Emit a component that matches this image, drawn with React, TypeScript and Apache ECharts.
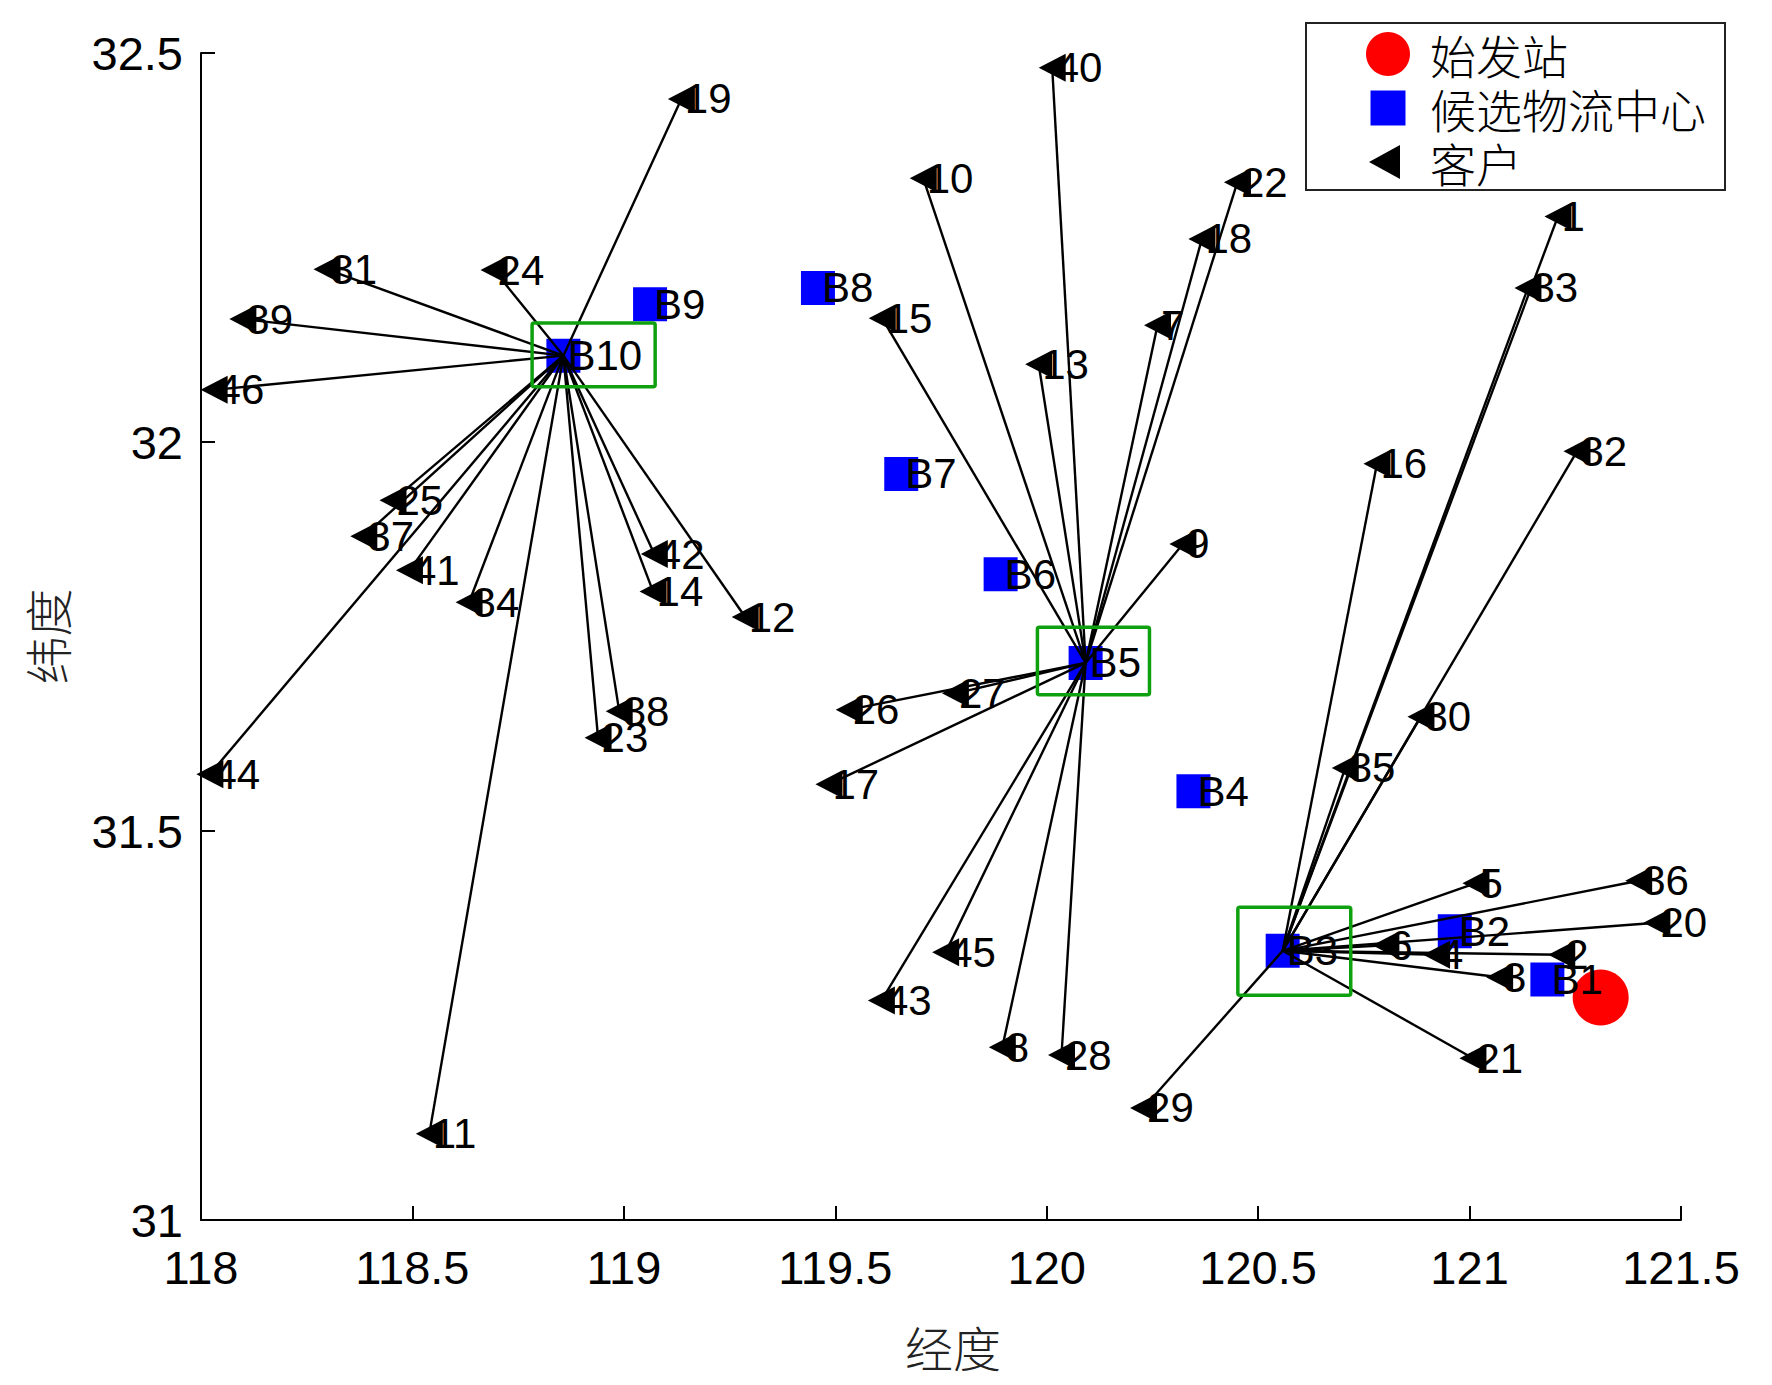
import React, { useEffect, useRef } from 'react';
import * as echarts from 'echarts';

// ---------- data ----------
const legendNames = ['始发站', '候选物流中心', '客户'];

const startLon = [121.31];
const startLat = [31.286];

const centerNames = ['B1', 'B2', 'B3', 'B4', 'B5', 'B6', 'B7', 'B8', 'B9', 'B10'];
const centerLon = [121.184, 120.965, 120.558, 120.347, 120.092, 119.891, 119.656, 119.459, 119.062, 118.857];
const centerLat = [31.309, 31.371, 31.346, 31.551, 31.716, 31.83, 31.959, 32.198, 32.177, 32.111];

const customerIds = [
  '1', '2', '3', '4', '5', '6', '7', '8', '9', '10',
  '11', '12', '13', '14', '15', '16', '17', '18', '19', '20',
  '21', '22', '23', '24', '25', '26', '27', '28', '29', '30',
  '31', '32', '33', '34', '35', '36', '37', '38', '39', '40',
  '41', '42', '43', '44', '45', '46',
];
const customerLon = [
  121.209, 121.218, 121.071, 120.922, 121.015, 120.802, 120.262, 119.895, 120.322, 119.708,
  118.54, 119.287, 119.981, 119.069, 119.611, 120.781, 119.485, 120.367, 119.136, 121.443,
  121.008, 120.451, 118.939, 118.693, 118.454, 119.533, 119.784, 120.035, 120.229, 120.885,
  118.298, 121.254, 121.138, 118.634, 120.706, 121.4, 118.385, 118.989, 118.099, 120.013,
  118.493, 119.072, 119.609, 118.021, 119.761, 118.031,
];
const customerLat = [
  32.29, 31.341, 31.312, 31.341, 31.433, 31.353, 32.15, 31.222, 31.869, 32.339,
  31.111, 31.775, 32.1, 31.808, 32.159, 31.972, 31.56, 32.261, 32.441, 31.382,
  31.208, 32.334, 31.62, 32.221, 31.925, 31.656, 31.677, 31.212, 31.144, 31.647,
  32.222, 31.988, 32.198, 31.794, 31.581, 31.436, 31.879, 31.654, 32.158, 32.481,
  31.835, 31.856, 31.282, 31.573, 31.344, 32.067,
];
// serving center of each customer
const customerCenter = [
  'B3', 'B3', 'B3', 'B3', 'B3', 'B3', 'B5', 'B5', 'B5', 'B5',
  'B10', 'B10', 'B5', 'B10', 'B5', 'B3', 'B5', 'B5', 'B10', 'B3',
  'B3', 'B5', 'B10', 'B10', 'B10', 'B5', 'B5', 'B5', 'B3', 'B3',
  'B10', 'B3', 'B3', 'B10', 'B3', 'B3', 'B10', 'B10', 'B10', 'B5',
  'B10', 'B10', 'B5', 'B10', 'B5', 'B10',
];

// selected centers, highlighted with boxes
const boxCenters = ['B10', 'B5', 'B3'];
const boxLonMin = [118.783, 119.978, 120.452];
const boxLonMax = [119.074, 120.243, 120.719];
const boxLatMin = [32.071, 31.675, 31.289];
const boxLatMax = [32.153, 31.762, 31.402];

const xTicks = { min: 118, max: 121.5, interval: 0.5 };
const yTicks = { min: 31, max: 32.5, interval: 0.5 };

// ---------- chart ----------
const LATIN = 'Liberation Sans, Arial, sans-serif';
const CJK = 'Noto Sans CJK SC, sans-serif';
const TRI = 'path://M0,14 L27,0 L27,28 Z';

export default function App() {
  const ref = useRef<HTMLDivElement>(null);

  useEffect(() => {
    if (!ref.current) return;
    const chart = echarts.init(ref.current, undefined, { renderer: 'svg' });

    const startData = startLon.map((lon, i) => ({ name: legendNames[0], value: [lon, startLat[i]] }));
    const centerData = centerNames.map((n, i) => ({ name: n, value: [centerLon[i], centerLat[i]] }));
    const customerData = customerIds.map((id, i) => ({ name: id, value: [customerLon[i], customerLat[i]] }));
    const lineData = customerIds.map((id, i) => {
      const c = centerNames.indexOf(customerCenter[i]);
      return { coords: [[centerLon[c], centerLat[c]], [customerLon[i], customerLat[i]]] };
    });
    const boxData = boxCenters.map((_, i) => [boxLonMin[i], boxLatMin[i], boxLonMax[i], boxLatMax[i]]);

    const axisCommon = {
      type: 'value' as const,
      splitLine: { show: false },
      axisLine: { show: true, lineStyle: { color: '#000', width: 2 } },
      axisTick: { show: true, inside: true, length: 14, lineStyle: { color: '#000', width: 2 } },
      nameLocation: 'middle' as const,
      nameTextStyle: { fontFamily: CJK, fontSize: 48, color: '#222', fontWeight: 300 },
    };

    chart.setOption({
      animation: false,
      backgroundColor: '#fff',
      grid: { left: 201, right: 91, top: 53, bottom: 165, containLabel: false },
      xAxis: {
        ...axisCommon,
        min: xTicks.min,
        max: xTicks.max,
        interval: xTicks.interval,
        name: '经度',
        nameGap: 102,
        nameTextStyle: { ...axisCommon.nameTextStyle, padding: [0, 0, 0, 24] },
        axisLabel: { color: '#000', fontFamily: LATIN, fontSize: 47, margin: 24 },
      },
      yAxis: {
        ...axisCommon,
        min: yTicks.min,
        max: yTicks.max,
        interval: yTicks.interval,
        name: '纬度',
        nameGap: 131,
        axisLabel: { color: '#000', fontFamily: LATIN, fontSize: 47, margin: 18 },
      },
      legend: {
        orient: 'vertical',
        left: 1306,
        top: 23,
        padding: [8, 19, 5, 60],
        itemWidth: 44,
        itemHeight: 44,
        itemGap: 8,
        selectedMode: false,
        backgroundColor: '#fff',
        borderColor: '#222',
        borderWidth: 2,
        textStyle: { fontFamily: CJK, fontSize: 46, lineHeight: 44, color: '#000', fontWeight: 300, padding: [0, 0, 0, 15] },
        data: [
          { name: legendNames[0], icon: 'circle' },
          { name: legendNames[1], icon: 'path://M0,0 M44,44 M4.5,4.5 L39.5,4.5 L39.5,39.5 L4.5,39.5 Z' },
          { name: legendNames[2], icon: 'path://M0,0 M44,44 M3,22 L34,5 L34,39 Z' },
        ],
      },
      series: [
        {
          name: legendNames[0],
          type: 'scatter',
          z: 2,
          symbol: 'circle',
          symbolSize: 56,
          itemStyle: { color: '#ff0000', opacity: 1 },
          data: startData,
        },
        {
          name: legendNames[1],
          type: 'scatter',
          z: 3,
          symbol: 'rect',
          symbolSize: 34,
          itemStyle: { color: '#0000ff', opacity: 1 },
          label: {
            show: true,
            position: 'right',
            distance: -13,
            formatter: '{b}',
            color: '#000',
            fontFamily: LATIN,
            fontSize: 42,
          },
          data: centerData,
        },
        {
          name: 'links',
          type: 'lines',
          coordinateSystem: 'cartesian2d',
          z: 4,
          lineStyle: { color: '#000', width: 2.4, opacity: 1, curveness: 0 },
          data: lineData,
        },
        {
          name: 'selected',
          type: 'custom',
          z: 5,
          renderItem: (_params: any, api: any) => {
            const p1 = api.coord([api.value(0), api.value(3)]);
            const p2 = api.coord([api.value(2), api.value(1)]);
            return {
              type: 'rect',
              shape: { x: p1[0], y: p1[1], width: p2[0] - p1[0], height: p2[1] - p1[1], r: 2 },
              style: { fill: 'none', stroke: '#0fa00f', lineWidth: 3.5 },
            };
          },
          encode: { x: [0, 2], y: [1, 3] },
          data: boxData,
        },
        {
          name: legendNames[2],
          type: 'scatter',
          z: 6,
          symbol: TRI,
          symbolSize: [27, 28],
          itemStyle: { color: '#000', opacity: 1 },
          label: {
            show: true,
            position: 'right',
            distance: -10,
            formatter: '{b}',
            color: '#000',
            fontFamily: LATIN,
            fontSize: 42,
          },
          data: customerData,
        },
      ],
    });

    return () => chart.dispose();
  }, []);

  return (
    <div
      ref={ref}
      style={{ position: 'absolute', left: 0, top: 0, width: 1772, height: 1385, background: '#fff' }}
    />
  );
}
